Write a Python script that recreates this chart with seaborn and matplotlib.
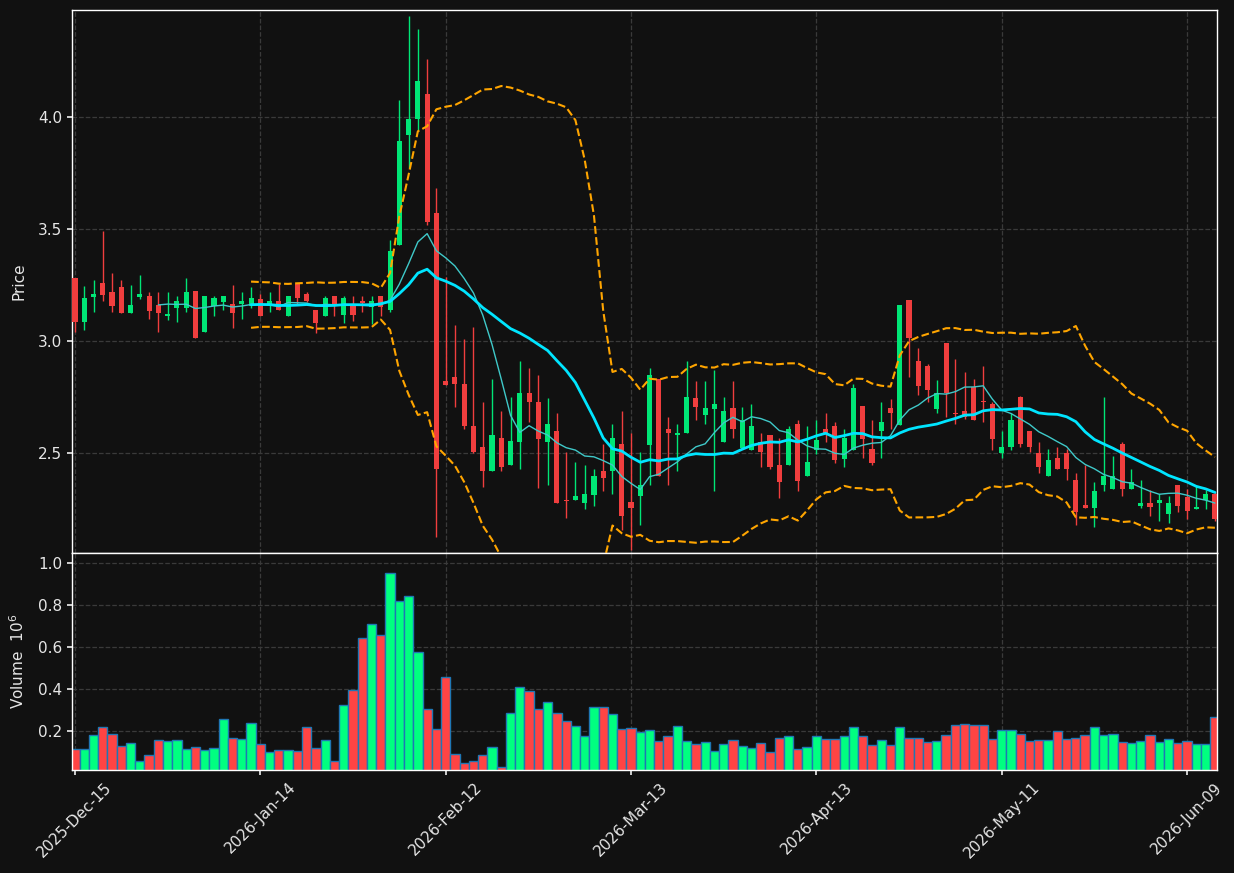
import numpy as np
import pandas as pd
import matplotlib
matplotlib.use("Agg")
import matplotlib.pyplot as plt
import seaborn as sns

# ---- data ----
opens = [3.283, 3.086, 3.198, 3.260, 3.220, 3.243, 3.126, 3.198, 3.202, 3.162,
         3.110, 3.149, 3.149, 3.225, 3.039, 3.158, 3.176, 3.167, 3.167, 3.158,
         3.190, 3.155, 3.179, 3.110, 3.253, 3.211, 3.140, 3.110, 3.200, 3.118,
         3.155, 3.180, 3.151, 3.200, 3.137, 3.427, 3.918, 3.991, 4.104, 3.573,
         2.823, 2.841, 2.810, 2.622, 2.528, 2.418, 2.568, 2.445, 2.548, 2.768,
         2.728, 2.548, 2.600, 2.290, 2.289, 2.275, 2.315, 2.420, 2.418, 2.542,
         2.280, 2.307, 2.534, 2.830, 2.609, 2.579, 2.588, 2.747, 2.668, 2.699,
         2.548, 2.702, 2.521, 2.516, 2.548, 2.582, 2.448, 2.445, 2.631, 2.396,
         2.516, 2.609, 2.622, 2.475, 2.516, 2.711, 2.519, 2.597, 2.702, 2.626,
         3.185, 2.912, 2.890, 2.699, 2.993, 2.679, 2.688, 2.793, 2.729, 2.719,
         2.499, 2.525, 2.750, 2.600, 2.501, 2.396, 2.479, 2.501, 2.381, 2.269,
         2.257, 2.356, 2.338, 2.542, 2.338, 2.266, 2.278, 2.275, 2.228, 2.357,
         2.302, 2.249, 2.290, 2.317]
highs = [3.283, 3.247, 3.274, 3.493, 3.304, 3.274, 3.251, 3.295, 3.220, 3.220,
         3.220, 3.202, 3.283, 3.225, 3.202, 3.202, 3.202, 3.251, 3.220, 3.243,
         3.211, 3.219, 3.253, 3.200, 3.261, 3.219, 3.140, 3.200, 3.200, 3.200,
         3.200, 3.200, 3.200, 3.200, 3.450, 4.076, 4.452, 4.393, 4.258, 3.682,
         3.287, 3.070, 3.009, 3.065, 2.728, 2.830, 2.688, 2.750, 2.911, 2.879,
         2.848, 2.746, 2.679, 2.507, 2.460, 2.446, 2.429, 2.540, 2.628, 2.688,
         2.589, 2.507, 2.879, 2.830, 2.661, 2.628, 2.911, 2.821, 2.821, 2.871,
         2.750, 2.821, 2.708, 2.719, 2.588, 2.582, 2.568, 2.622, 2.647, 2.622,
         2.647, 2.679, 2.638, 2.607, 2.808, 2.711, 2.649, 2.728, 2.741, 3.162,
         3.185, 2.969, 2.899, 2.826, 2.993, 2.920, 2.862, 2.830, 2.888, 2.728,
         2.597, 2.679, 2.753, 2.600, 2.551, 2.518, 2.527, 2.518, 2.411, 2.446,
         2.371, 2.750, 2.487, 2.551, 2.429, 2.381, 2.335, 2.317, 2.308, 2.357,
         2.339, 2.351, 2.335, 2.326]
lows = [3.039, 3.051, 3.132, 3.177, 3.132, 3.126, 3.126, 3.190, 3.097, 3.039,
        3.092, 3.083, 3.132, 3.015, 3.039, 3.110, 3.141, 3.057, 3.097, 3.149,
        3.110, 3.129, 3.137, 3.110, 3.160, 3.175, 3.036, 3.110, 3.113, 3.082,
        3.090, 3.129, 3.075, 3.110, 3.129, 3.427, 3.773, 3.944, 3.520, 2.127,
        2.806, 2.708, 2.607, 2.500, 2.348, 2.418, 2.418, 2.445, 2.429, 2.637,
        2.344, 2.357, 2.275, 2.210, 2.289, 2.250, 2.262, 2.329, 2.318, 2.158,
        2.068, 2.180, 2.357, 2.396, 2.357, 2.420, 2.588, 2.647, 2.628, 2.329,
        2.548, 2.568, 2.521, 2.516, 2.437, 2.429, 2.299, 2.445, 2.329, 2.396,
        2.496, 2.548, 2.458, 2.437, 2.516, 2.478, 2.448, 2.478, 2.607, 2.626,
        2.838, 2.760, 2.726, 2.679, 2.661, 2.629, 2.652, 2.647, 2.640, 2.516,
        2.478, 2.516, 2.527, 2.507, 2.411, 2.396, 2.427, 2.381, 2.179, 2.257,
        2.170, 2.329, 2.338, 2.308, 2.338, 2.257, 2.219, 2.196, 2.187, 2.237,
        2.205, 2.249, 2.249, 2.199]
closes = [3.086, 3.193, 3.211, 3.207, 3.158, 3.126, 3.162, 3.211, 3.135, 3.126,
          3.122, 3.180, 3.220, 3.015, 3.202, 3.193, 3.202, 3.126, 3.180, 3.193,
          3.110, 3.179, 3.137, 3.200, 3.191, 3.179, 3.079, 3.193, 3.160, 3.193,
          3.118, 3.172, 3.179, 3.151, 3.404, 3.894, 3.992, 4.163, 3.530, 2.427,
          2.806, 2.807, 2.619, 2.506, 2.418, 2.582, 2.436, 2.555, 2.768, 2.726,
          2.565, 2.631, 2.275, 2.286, 2.310, 2.318, 2.399, 2.387, 2.568, 2.217,
          2.257, 2.357, 2.848, 2.396, 2.588, 2.591, 2.750, 2.708, 2.702, 2.720,
          2.689, 2.606, 2.647, 2.622, 2.507, 2.436, 2.369, 2.609, 2.376, 2.461,
          2.558, 2.588, 2.467, 2.568, 2.792, 2.565, 2.458, 2.640, 2.677, 3.162,
          3.016, 2.798, 2.780, 2.768, 2.769, 2.676, 2.661, 2.647, 2.726, 2.565,
          2.527, 2.649, 2.539, 2.525, 2.436, 2.470, 2.427, 2.427, 2.237, 2.257,
          2.332, 2.399, 2.399, 2.338, 2.371, 2.278, 2.259, 2.292, 2.278, 2.266,
          2.240, 2.260, 2.317, 2.208]
volumes = [0.114, 0.114, 0.181, 0.219, 0.186, 0.128, 0.142, 0.056, 0.085, 0.157,
           0.152, 0.157, 0.114, 0.123, 0.109, 0.119, 0.258, 0.167, 0.162, 0.238,
           0.138, 0.099, 0.109, 0.109, 0.104, 0.219, 0.119, 0.157, 0.056, 0.325,
           0.396, 0.645, 0.708, 0.655, 0.952, 0.818, 0.842, 0.578, 0.305, 0.210,
           0.459, 0.090, 0.047, 0.056, 0.085, 0.123, 0.027, 0.286, 0.411, 0.391,
           0.305, 0.339, 0.286, 0.248, 0.224, 0.176, 0.315, 0.315, 0.281, 0.210,
           0.214, 0.195, 0.205, 0.152, 0.176, 0.224, 0.152, 0.138, 0.147, 0.104,
           0.138, 0.157, 0.128, 0.119, 0.142, 0.099, 0.167, 0.176, 0.114, 0.123,
           0.176, 0.162, 0.162, 0.176, 0.219, 0.176, 0.133, 0.157, 0.133, 0.219,
           0.167, 0.167, 0.147, 0.152, 0.181, 0.228, 0.233, 0.228, 0.228, 0.162,
           0.205, 0.205, 0.186, 0.152, 0.157, 0.157, 0.200, 0.162, 0.167, 0.181,
           0.219, 0.181, 0.186, 0.147, 0.142, 0.152, 0.181, 0.147, 0.162, 0.142,
           0.152, 0.138, 0.138, 0.267]  # in millions
start_date = "2025-12-15"
holidays = ["2025-12-25", "2026-01-01", "2026-01-19", "2026-02-16",
            "2026-04-03", "2026-05-25"]
tick_every = 20

# ---- style ----
BG = "#111111"
TXT = "#e6e6e6"
sns.set_theme(style="dark", rc={
    "figure.facecolor": BG, "axes.facecolor": BG, "axes.edgecolor": "white",
    "axes.labelcolor": TXT, "xtick.color": TXT, "ytick.color": TXT,
    "text.color": TXT, "axes.linewidth": 1.0,
})
plt.rcParams["font.family"] = ["DejaVu Sans"]

o = np.array(opens); h = np.array(highs); l = np.array(lows)
c = np.array(closes); v = np.array(volumes)
n = len(c)
idx = np.arange(n)
dates = pd.bdate_range(start_date, periods=n, freq="C", holidays=holidays)

cs = pd.Series(c)
ma10 = cs.rolling(10).mean()
ma20 = cs.rolling(20).mean()
sd20 = cs.rolling(20).std()
upper = ma20 + 2 * sd20
lower = ma20 - 2 * sd20

fig = plt.figure(figsize=(12.34, 8.73), dpi=100)
ax = fig.add_axes([0.05835, 0.36655, 0.92788, 0.62199])
axv = fig.add_axes([0.05835, 0.11798, 0.92788, 0.24857], sharex=ax)

up = c >= o
ccol = np.where(up, "#00e676", "#f03e3e")
vcol = np.where(up, "#00ff80", "#ff4444")

# candles
ax.vlines(idx, l, h, colors=ccol, linewidth=1.0, zorder=2)
body = np.maximum(np.abs(c - o), 0.005)
ax.bar(idx, body, bottom=np.minimum(o, c), width=0.55, color=ccol,
       linewidth=0, zorder=3)

# overlays
m = ~ma10.isna()
sns.lineplot(x=idx[m], y=ma10[m].values, ax=ax, color="#3fc9c9", linewidth=1.0, zorder=4)
m = ~ma20.isna()
sns.lineplot(x=idx[m], y=ma20[m].values, ax=ax, color="#00e5ff", linewidth=2.0, zorder=5)
sns.lineplot(x=idx[m], y=upper[m].values, ax=ax, color="#ffa500", linewidth=1.5,
             linestyle="--", zorder=4)
sns.lineplot(x=idx[m], y=lower[m].values, ax=ax, color="#ffa500", linewidth=1.5,
             linestyle="--", zorder=4)

# volume
axv.bar(idx, v, width=1.0, color=vcol, edgecolor="#1f77b4", linewidth=1.0, zorder=2)

# axes cosmetics
ax.set_xlim(-0.32, n - 1 + 0.23)
ax.set_ylim(2.054, 4.478)
axv.set_ylim(0.014, 1.048)
ax.set_yticks([2.5, 3.0, 3.5, 4.0])
ax.set_yticklabels(["2.5", "3.0", "3.5", "4.0"])
axv.set_yticks([0.2, 0.4, 0.6, 0.8, 1.0])
axv.set_yticklabels(["0.2", "0.4", "0.6", "0.8", "1.0"])
ticks = idx[::tick_every]
axv.set_xticks(ticks)
axv.set_xticklabels([d.strftime("%Y-%b-%d") for d in dates[ticks]],
                    rotation=45, ha="center")
ax.tick_params(axis="x", labelbottom=False, length=0)
for a in (ax, axv):
    a.grid(True, linestyle="--", color="#3a3a3a", linewidth=0.9)
    a.set_axisbelow(True)
    a.tick_params(axis="y", labelsize=11, length=3.5, left=True, colors=TXT)
    for s in a.spines.values():
        s.set_color("white")
        s.set_linewidth(1.0)
axv.tick_params(axis="x", labelsize=11, length=3.5, bottom=True, colors=TXT)
ax.set_ylabel("Price", fontsize=11, labelpad=8)
axv.set_ylabel("Volume  $10^{6}$", fontsize=11, labelpad=8)
ax.set_xlabel("")
axv.set_xlabel("")

fig.savefig("out.png", dpi=100, facecolor=BG)
